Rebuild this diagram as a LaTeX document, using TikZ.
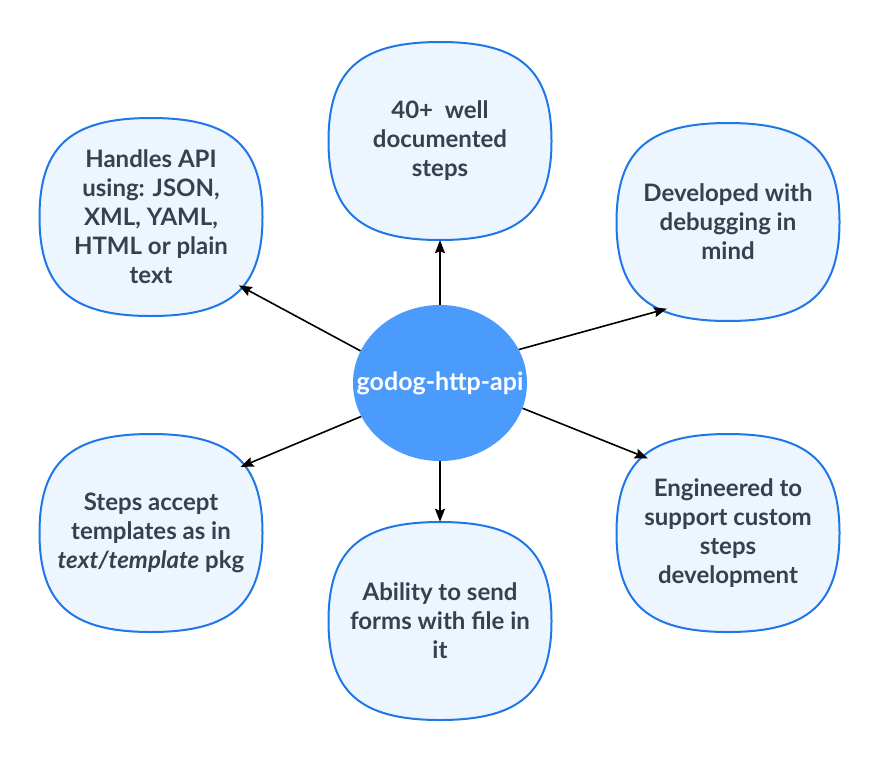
\documentclass[tikz,border=0pt]{standalone}
\usepackage{fontspec}
\setmainfont{Lato}
\usetikzlibrary{arrows.meta,shapes.geometric}
\definecolor{boxfill}{HTML}{EDF5FE}
\definecolor{boxline}{HTML}{1F78E6}
\definecolor{boxtext}{HTML}{37414E}
\definecolor{hubfill}{HTML}{4A9BFC}

\begin{document}
\begin{tikzpicture}[x=1pt,y=-1pt,
    blob/.style={draw=boxline, line width=2pt, fill=boxfill},
    feature/.style={minimum width=223pt, minimum height=198pt, align=center, text=boxtext,
        font=\bfseries\fontsize{24}{29}\selectfont},
    hub/.style={ellipse, fill=hubfill, minimum width=174pt, minimum height=156pt,
        inner xsep=-25pt, inner ysep=0pt, text=white, font=\bfseries\fontsize{25}{29}\selectfont},
    link/.style={-{Stealth[length=13pt,width=10pt,inset=2pt]}, line width=1.6pt}]
            \useasboundingbox (0, 0) rectangle (880, 760);

            \foreach \cx/\cy in {440/141, 151/217, 728/222, 151/533, 440/621, 728/533}
                \draw[blob] (\cx+111.5, \cy)
                    .. controls (\cx+111.5, \cy-71) and (\cx+80, \cy-99) .. (\cx, \cy-99)
                    .. controls (\cx-80, \cy-99) and (\cx-111.5, \cy-71) .. (\cx-111.5, \cy)
                    .. controls (\cx-111.5, \cy+71) and (\cx-80, \cy+99) .. (\cx, \cy+99)
                    .. controls (\cx+80, \cy+99) and (\cx+111.5, \cy+71) .. (\cx+111.5, \cy) -- cycle;

            \node[hub] (api) at (440, 383) {godog-http-api};

            \node[feature] (steps) at (440, 141) {40+~ well\\documented\\steps};
            \node[feature] (formats) at (151, 217) {Handles API\\using: JSON,\\XML, YAML,\\HTML or plain\\text};
            \node[feature] (debug) at (728, 222) {Developed with\\debugging in\\mind};
            \node[feature] (templates) at (151, 533) {Steps accept\\templates as in\\\textit{text/template} pkg};
            \node[feature] (forms) at (440, 621) {Ability to send\\forms with file in\\it};
            \node[feature] (custom) at (728, 533) {Engineered to\\support custom\\steps\\development};

            \draw[link] (api.north) -- (steps.south);
            \draw[link, shorten >=-27pt] (api.158) -- (formats.-36.5);
            \draw[link, shorten >=-47pt] (api.23) -- (debug.-137.8);
            \draw[link, shorten >=-24pt] (api.203) -- (templates.34.9);
            \draw[link] (api.south) -- (forms.north);
            \draw[link, shorten >=-34pt] (api.-17) -- (custom.142.1);
        \end{tikzpicture}
\end{document}
